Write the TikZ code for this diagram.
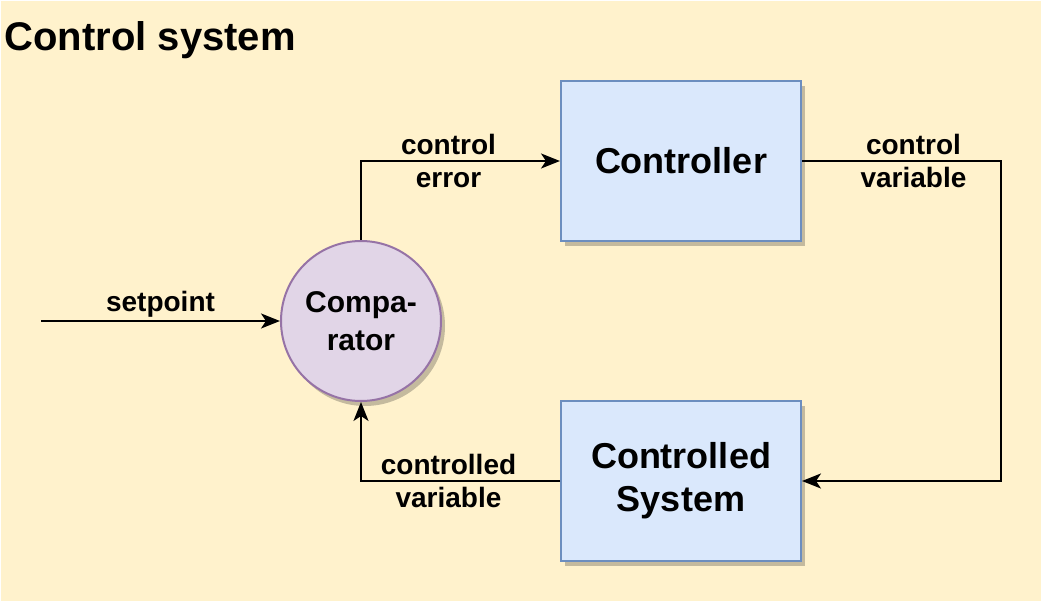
\documentclass[tikz,border=0pt]{standalone}
\usepackage{fontspec}
\setmainfont{Liberation Sans}
\usetikzlibrary{arrows.meta,shadows}

\definecolor{bgyellow}{HTML}{FFF2CC}
\definecolor{blockfill}{HTML}{DAE8FC}
\definecolor{blockline}{HTML}{6C8EBF}
\definecolor{compfill}{HTML}{E1D5E7}
\definecolor{compline}{HTML}{9673A6}
\definecolor{shadowc}{HTML}{C4BA9E}

\tikzset{
    myshadow/.style={drop shadow={shadow xshift=4pt, shadow yshift=-5pt, fill=shadowc, opacity=1}},
    block/.style={draw=blockline, fill=blockfill, line width=2pt, minimum width=240pt,
        minimum height=160pt, align=center, myshadow,
        font=\bfseries\fontsize{36}{43}\selectfont},
    comparator/.style={circle, draw=compline, fill=compfill, line width=2pt, minimum size=160pt,
        inner sep=0pt, align=center, myshadow, font=\bfseries\fontsize{30}{38}\selectfont},
    lbl/.style={align=center, font=\bfseries\fontsize{28}{33}\selectfont},
    flow/.style={line width=2pt, -{Stealth[length=19pt, width=15pt, inset=5pt]}}
}

\begin{document}
\begin{tikzpicture}[x=1pt, y=-1pt]
    \useasboundingbox (0,0) rectangle (1042,602);
    \fill[bgyellow] (1,1) rectangle (1041,601);
    \node[anchor=west, font=\bfseries\fontsize{40}{48}\selectfont] (title) at (1,40) {Control system};

    % blocks
    \node[block] (ctrl) at (681,161) {Controller};
    \node[block] (plant) at (681,481) {Controlled\\System};
    \node[comparator] (comp) at (361,321) {Compa-\\rator};
    \coordinate (in) at (41,321);
    \coordinate (turn) at (1001,161);

    % signals
    \draw[flow] (in) -- node[lbl, above=-1pt] {setpoint} (comp);
    \draw[flow] (comp.north) |- node[lbl, pos=0.75, xshift=-12pt] {control\\error} (ctrl.west);
    \draw[flow] (ctrl.east) -- node[lbl, xshift=12pt] {control\\variable} (turn) |- (plant.east);
    \draw[flow] (plant.west) -| node[lbl, pos=0.25, xshift=-12pt] {controlled\\variable} (comp.south);
\end{tikzpicture}
\end{document}
